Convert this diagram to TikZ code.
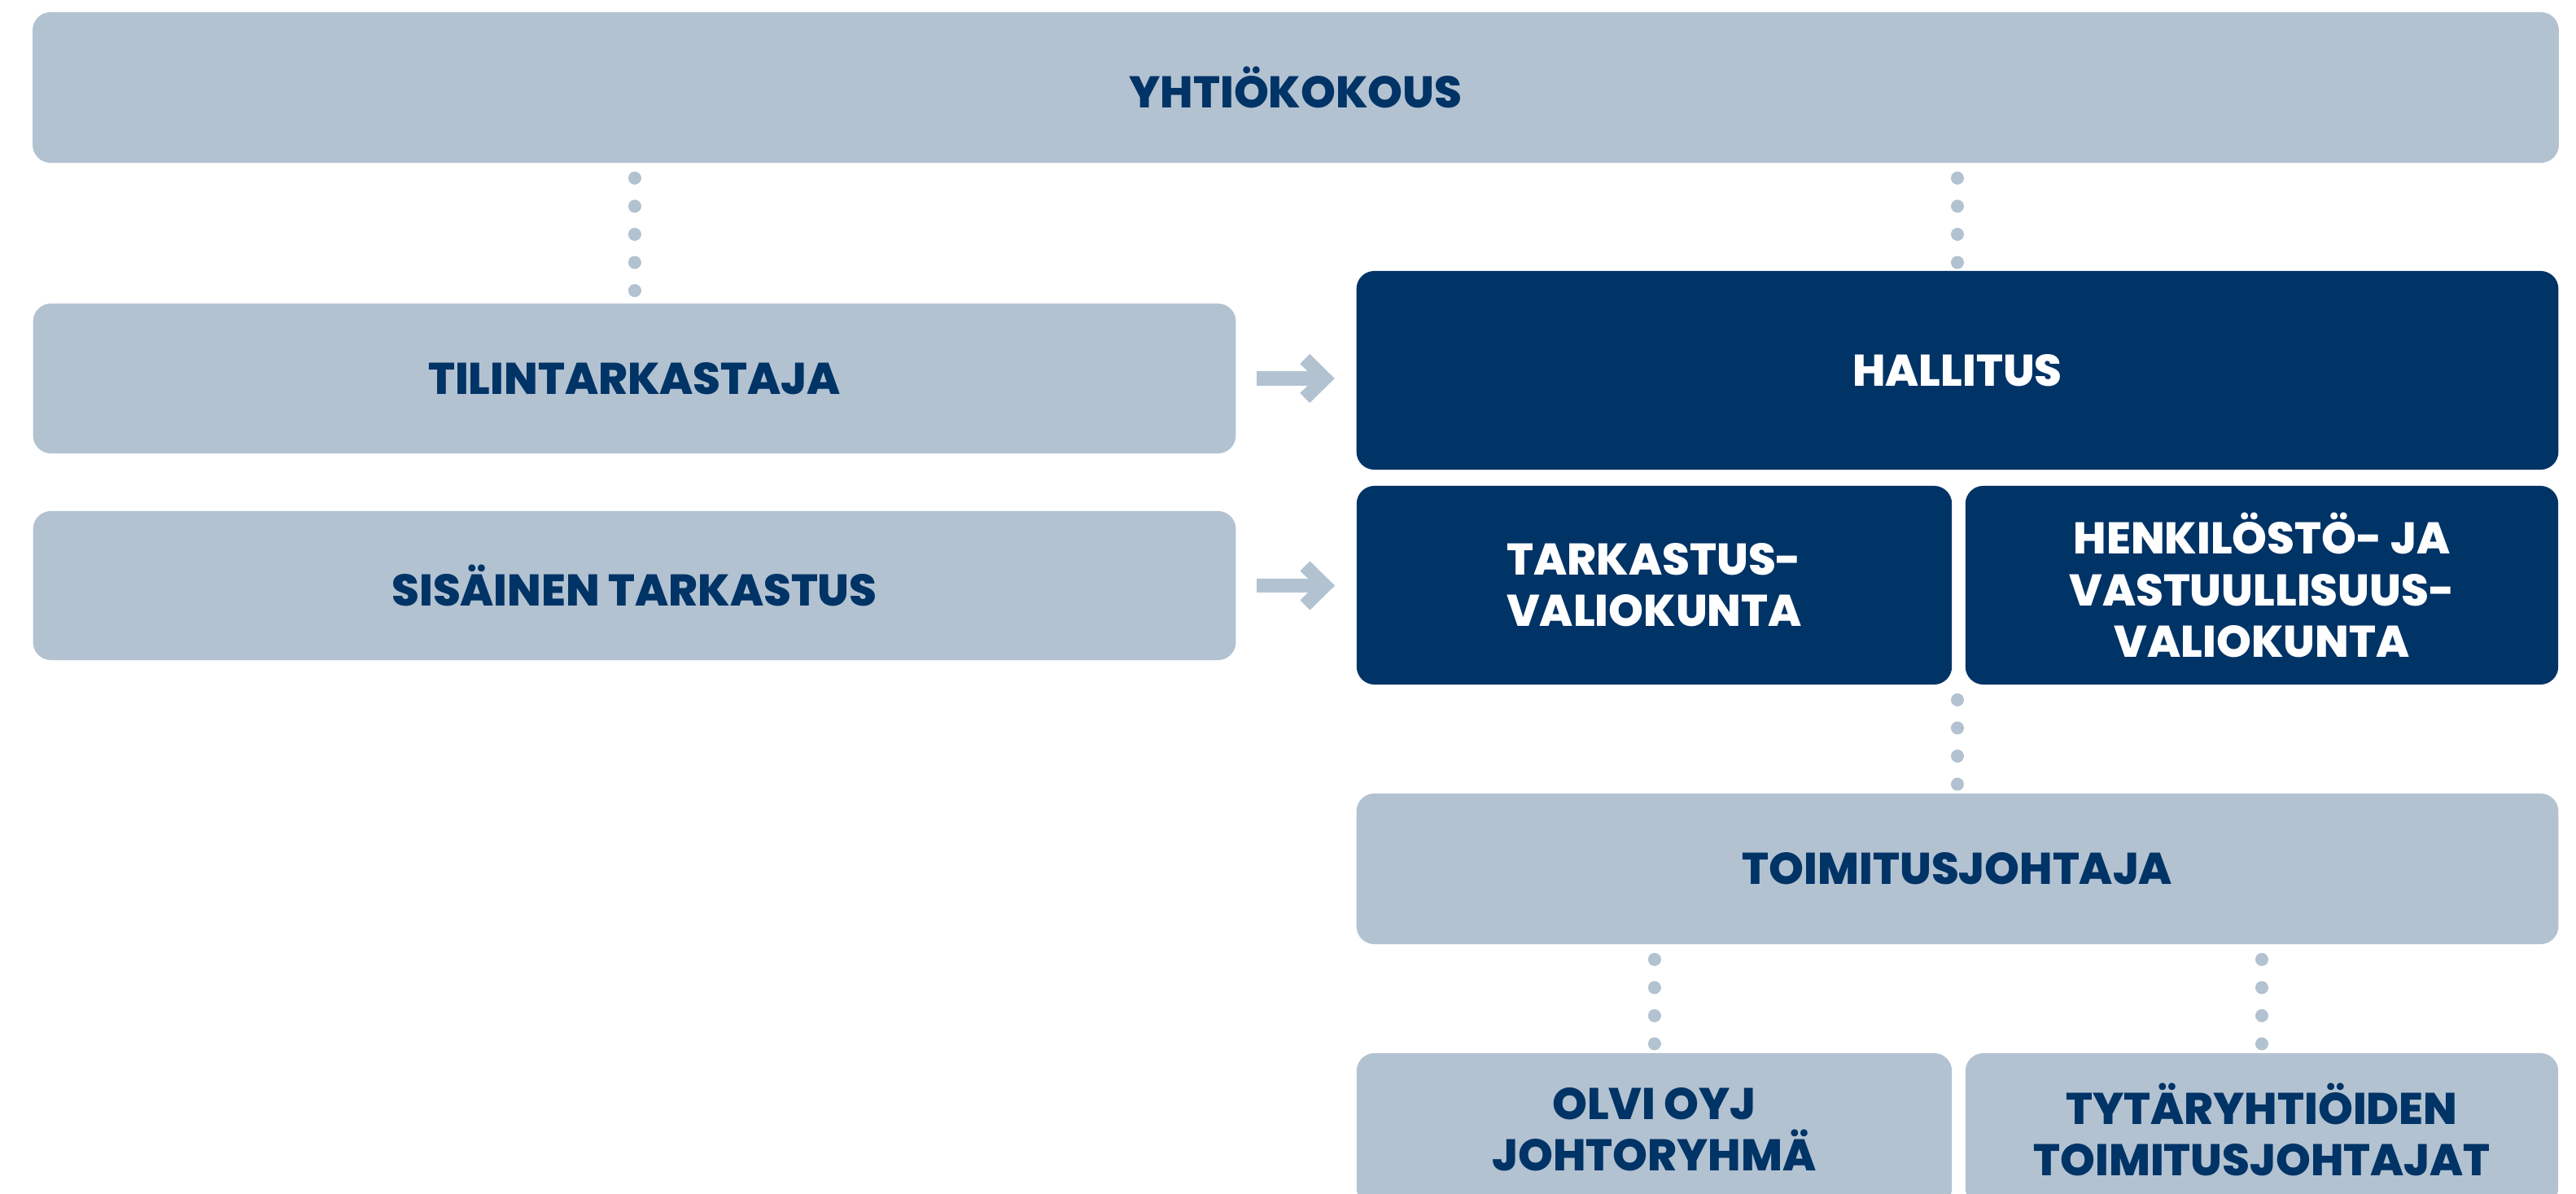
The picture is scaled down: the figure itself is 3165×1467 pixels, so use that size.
\documentclass[tikz,border=0pt]{standalone}
\usepackage{fontspec}
\setmainfont{Poppins}[BoldFont={Poppins ExtraBold}]
\usetikzlibrary{arrows.meta}

\definecolor{olvilight}{HTML}{B2C2D1}
\definecolor{olvidark}{HTML}{003366}
\newcommand{\boxfont}{\fontsize{15.5}{18}\selectfont\bfseries}

\tikzset{
  lightbox/.style={rectangle, rounded corners=2.2mm, fill=olvilight, text=olvidark,
    inner sep=0pt, align=center, font=\boxfont},
  darkbox/.style={lightbox, fill=olvidark, text=white},
  dotline/.style={draw=olvilight, line width=1.6mm, line cap=round,
    dash pattern=on 0.01pt off 3.45mm, dash phase=1.65mm},
  arrowbar/.style={draw=olvilight, line width=1.7mm,
    -{Straight Barb[length=2.45mm,width=4.8mm]}}
}

\begin{document}
\begin{tikzpicture}[x=0.01cm, y=-0.01cm]
    \useasboundingbox (0,0) rectangle (3165,1467);
    \clip (0,0) rectangle (3165,1467);

    % General meeting
    \node[lightbox, minimum width=31.02cm, minimum height=1.85cm] (yht) at (1592,107.5) {YHTIÖKOKOUS};

    % Left column
    \node[lightbox, minimum width=14.77cm, minimum height=1.84cm] (tilin) at (779.5,465) {TILINTARKASTAJA};
    \node[lightbox, minimum width=14.77cm, minimum height=1.83cm] (sis) at (779.5,719.5) {SISÄINEN TARKASTUS};

    % Board and committees
    \node[darkbox, minimum width=14.76cm, minimum height=2.44cm] (hall) at (2405,455) {HALLITUS};
    \node[darkbox, minimum width=7.31cm, minimum height=2.44cm] (tark) at (2032.5,719) {TARKASTUS-\\VALIOKUNTA};
    \node[darkbox, minimum width=7.28cm, minimum height=2.44cm] (henk) at (2779,719) {HENKILÖSTÖ- JA\\VASTUULLISUUS-\\VALIOKUNTA};

    % Management
    \node[lightbox, minimum width=14.76cm, minimum height=1.85cm] (toim) at (2405,1067.5) {TOIMITUSJOHTAJA};
    \node[lightbox, minimum width=7.31cm, minimum height=1.88cm] (olvi) at (2032.5,1388) {OLVI OYJ\\JOHTORYHMÄ};
    \node[lightbox, minimum width=7.28cm, minimum height=1.88cm] (tyt) at (2779,1388) {TYTÄRYHTIÖIDEN\\TOIMITUSJOHTAJAT};

    % Dotted links
    \draw[dotline] (yht.south -| tilin.north) -- (tilin.north);
    \draw[dotline] (yht.south -| hall.north) -- (hall.north);
    \draw[dotline] (tark.south -| toim.north) -- (toim.north);
    \draw[dotline] (toim.south -| olvi.north) -- (olvi.north);
    \draw[dotline] (toim.south -| tyt.north) -- (tyt.north);

    % Arrows into the board
    \draw[arrowbar] ([xshift=2.5mm]tilin.east) -- ([xshift=-2.6mm]tilin.east -| hall.west);
    \draw[arrowbar] ([xshift=2.5mm]sis.east) -- ([xshift=-2.6mm]sis.east -| tark.west);
\end{tikzpicture}
\end{document}
